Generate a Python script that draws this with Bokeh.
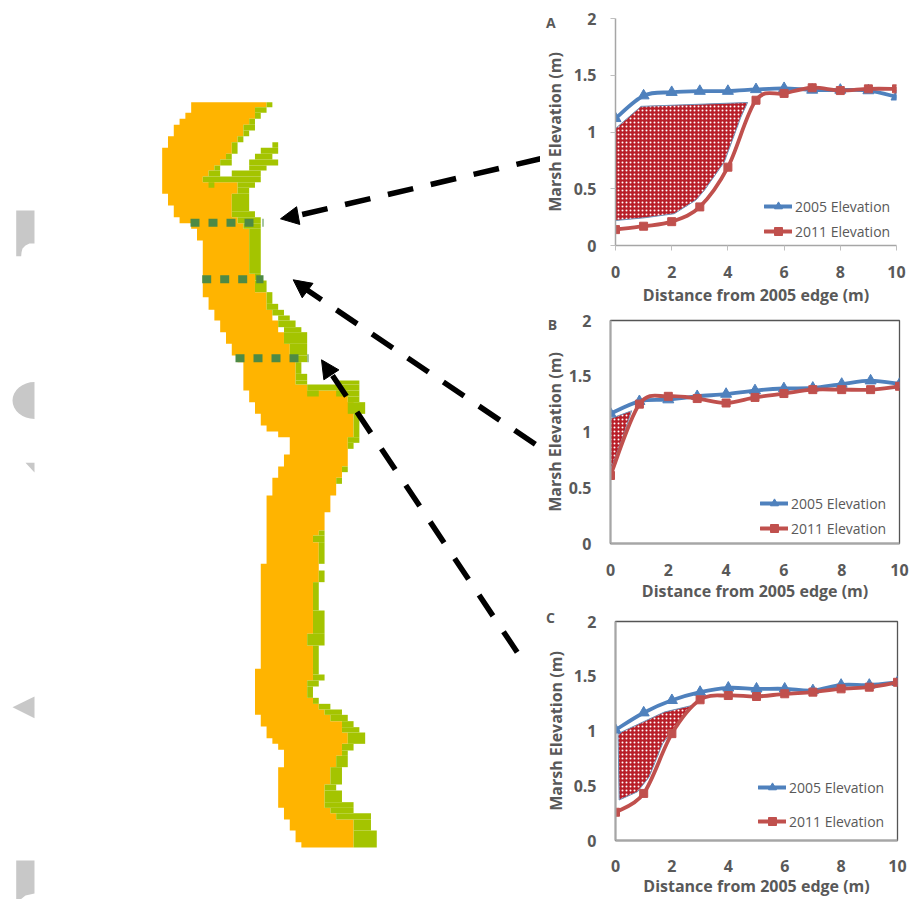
from bokeh.plotting import figure
from bokeh.layouts import row, column
from bokeh.models import Range1d, Legend, LegendItem, Arrow, NormalHead, FixedTicker, LinearAxis
from bokeh.core.properties import value
from bokeh.embed import file_html
from bokeh.resources import INLINE

# ---------- chart data ----------
distance = [0, 1, 2, 3, 4, 5, 6, 7, 8, 9, 10]
a_2005 = [1.12, 1.32, 1.35, 1.36, 1.36, 1.375, 1.385, 1.37, 1.37, 1.365, 1.31]
a_2011 = [0.14, 0.17, 0.21, 0.34, 0.69, 1.28, 1.34, 1.39, 1.365, 1.38, 1.38]
b_2005 = [1.165, 1.275, 1.29, 1.32, 1.34, 1.372, 1.39, 1.395, 1.43, 1.46, 1.43]
b_2011 = [0.61, 1.25, 1.32, 1.30, 1.26, 1.31, 1.345, 1.38, 1.38, 1.38, 1.41]
c_2005 = [1.01, 1.167, 1.28, 1.355, 1.394, 1.385, 1.385, 1.37, 1.42, 1.42, 1.445]
c_2011 = [0.258, 0.43, 0.976, 1.285, 1.324, 1.315, 1.34, 1.355, 1.385, 1.40, 1.445]
# eroded areas
a_loss_x = [0, 0.91, 4.7, 4.46, 3.87, 3.16, 2.86, 2.09, 1.03, 0]
a_loss_y = [1.03, 1.226, 1.26, 1.13, 0.735, 0.485, 0.40, 0.28, 0.244, 0.22]
b_loss_x = [0, 0.73, 0.46, 0]
b_loss_y = [1.12, 1.19, 0.98, 0.655]
c_loss_x = [0.09, 1.73, 2.71, 2.2, 1.67, 1.19, 0.78, 0.13]
c_loss_y = [0.976, 1.173, 1.233, 1.067, 0.885, 0.58, 0.445, 0.37]
x_ticks = [0, 2, 4, 6, 8, 10]
y_ticks = [0, 0.5, 1, 1.5, 2]
y_tick_labels = {0: "0", 0.5: "0.5", 1: "1", 1.5: "1.5", 2: "2"}
x_title = "Distance from 2005 edge (m)"
y_title = "Marsh Elevation (m)"
series_names = ["2005 Elevation", "2011 Elevation"]

# ---------- map data: rows (y0, y1, edge...) ----------
crop_top = (150, 90)
top_left = [(35,67,122),(67,85,105),(85,103,88),(103,137,70),(137,172,52),(172,310,35),(310,345,52),
            (345,380,70),(380,398,88),(398,415,122),(415,450,140),(450,620,158),(620,658,175),(658,690,192),
            (690,725,210),(725,760,228),(760,795,245),(795,815,262),(815,870,280)]
top_right = [(35,50,350),(50,85,315),(85,103,297),(103,137,280),(137,155,262),(155,190,245),(190,207,228),
             (207,225,210),(225,240,192),(240,258,175),(258,275,158),(275,310,262),(310,380,245),(380,398,262),
             (398,415,280),(415,550,297),(550,605,315),(605,658,350),(658,690,367),(690,725,385),(725,760,400),
             (760,795,418),(795,870,437)]
top_green = [(35,50,350,367),(50,67,315,350),(67,85,315,333),(85,103,297,315),(103,120,280,315),(120,137,280,297),
             (137,155,262,280),(155,190,245,262),(190,207,228,245),(207,225,210,245),(225,240,192,210),(240,258,175,210),
             (258,275,158,333),(240,258,245,333),(225,240,297,350),(207,225,297,385),(190,207,315,367),(172,190,333,385),
             (155,172,367,385),(275,292,175,192),(275,292,262,315),(292,310,262,297),(310,362,245,297),(362,380,245,315),
             (380,398,262,333),(398,415,280,333),(415,550,297,330),(550,570,315,333),(570,605,315,350),(605,640,350,367),
             (640,658,350,385),(658,675,367,400),(675,690,385,418),(690,710,385,435),(710,725,400,452),(725,760,400,470),
             (760,795,418,470),(795,815,437,470),(815,850,437,452),(850,870,437,470)]
crop_mid = (230, 380)
mid_left = [(0,30,40),(30,65,58),(65,100,75),(100,135,92),(135,153,110),(153,170,145),(170,222,180),(222,258,162),
            (258,292,145),(292,345,127),(345,550,110),(550,690,92)]
mid_right = [(0,12,200),(12,30,230),(30,65,355),(65,170,370),(170,205,355),(205,258,352),(258,292,335),(292,345,318),
             (345,395,300),(395,450,283),(450,465,265),(465,485,248),(485,605,265),(605,690,248)]
mid_green = [(0,12,198,230),(0,12,320,385),(12,30,230,385),(30,48,230,265),(30,48,320,385),(48,65,355,385),(65,100,355,405),
             (100,170,370,388),(170,187,355,388),(187,205,355,370),(258,275,335,352),(292,310,318,335),(450,465,265,283),
             (465,485,248,283),(485,550,265,283),(570,605,265,283),(605,690,248,265)]
crop_low = (230, 610)
low_left = [(0,175,92),(175,313,75),(313,348,92),(348,383,110),(383,400,127),(400,418,145),(418,470,162),(470,592,145),
            (592,627,162),(627,660,180),(660,695,197),(695,711,215)]
low_green = [(0,70,248,283),(70,105,230,283),(105,192,248,265),(192,210,248,283),(210,228,230,265),(228,262,230,248),
             (262,280,248,265),(280,297,265,300),(297,313,283,335),(313,332,300,352),(332,350,335,370),(350,366,335,388),
             (366,400,352,405),(400,420,335,370),(420,436,335,352),(436,470,318,352),(470,522,300,335),(522,540,283,318),
             (540,575,283,335),(575,592,283,370),(592,608,300,370),(608,627,318,422),(627,660,370,422),(660,711,370,440)]

BLUE, RED, GREY_TXT = "#4F81BD", "#C0504D", "#595959"
ORANGE, GREEN, DARK_GREEN, BG_GREY = "#FFB400", "#A4C400", "#4E8A45", "#C8C8C8"
FONT = "Open Sans"
CELL, CELL_X0 = 5.8, 161.67


def snap(x):
    return CELL_X0 + round((x - CELL_X0) / CELL) * CELL


def to_px(rows, crop):
    ox, oy = crop
    return [(oy + r[0] / 3, oy + r[1] / 3) + tuple(snap(ox + v / 3) for v in r[2:]) for r in rows]


# ---------- map figure (its axes run in picture units) ----------
m = figure(width=540, height=899, x_range=Range1d(0, 540), y_range=Range1d(899, 0), frame_align=False,
           output_backend="svg", toolbar_location=None, min_border=0)
m.axis.visible = False
m.grid.visible = False
m.outline_line_color = None

# faded background letters
m.patch([15.7, 34, 34, 29, 25, 22, 21, 20.7, 15.7], [210, 210, 243, 243, 245, 248, 252, 255.7, 255.7],
        fill_color=BG_GREY, line_color=None)
m.ellipse(x=[34], y=[400], width=44, height=37, fill_color=BG_GREY, line_color=None)
m.quad(left=[34], right=[60], top=[380], bottom=[420], fill_color="white", line_color=None)
m.patch([25, 34, 34], [462.3, 462.3, 472], fill_color=BG_GREY, line_color=None)
m.patch([12, 34, 34], [706.7, 696, 717.7], fill_color=BG_GREY, line_color=None)
m.patch([15.7, 34, 34, 25, 20, 15.7], [860, 860, 893, 895, 899, 899], fill_color=BG_GREY, line_color=None)

left_rows = to_px(top_left, crop_top) + to_px(mid_left, crop_mid) + to_px(low_left, crop_low)
right_rows = to_px(top_right, crop_top) + to_px(mid_right, crop_mid) + \
    [(r[0], r[1], r[2]) for r in to_px(low_green, crop_low)]
green_rows = to_px(top_green, crop_top) + to_px(mid_green, crop_mid) + to_px(low_green, crop_low)

px, py = [], []
for y0, y1, x in right_rows:
    px += [x, x]
    py += [y0, y1]
for y0, y1, x in reversed(left_rows):
    px += [x, x]
    py += [y1, y0]
m.patch(px, py, fill_color=ORANGE, line_color=None)
m.quad(left=[r[2] for r in green_rows], right=[r[3] for r in green_rows],
       top=[r[0] for r in green_rows], bottom=[r[1] for r in green_rows],
       fill_color=GREEN, line_color=None)

# transect lines
for x0, x1, y in [(190, 263, 222.3), (201.7, 263, 278.7), (235, 308, 357.7)]:
    m.line([x0, x1], [y, y], line_color=DARK_GREEN, line_width=8, line_dash="9 9")

# dashed arrows: first dash start, far end, head base, tip
for sx, sy, ex, ey, bx, by, tx, ty, dash in [
    (301.7, 214, 540, 158.3, 298.3, 215, 280, 218.3, "26 18"),
    (300.3, 285.3, 538.3, 446, 303, 287, 292.7, 279.3, "25 18"),
    (332, 375, 516.7, 651.7, 330, 373, 321, 359.3, "25 19"),
]:
    m.line([sx, ex], [sy, ey], line_color="black", line_width=5.5, line_dash=dash)
    m.add_layout(Arrow(x_start=bx, y_start=by, x_end=tx, y_end=ty, line_alpha=0, line_width=1,
                       end=NormalHead(size=18, fill_color="black", line_color="black", line_width=1)))


# ---------- line charts ----------
def smooth(xs, ys):
    """Control points of the curve through the data points (spreadsheet smoothing)."""
    n = len(xs)
    out = {k: [] for k in ("x0", "y0", "x1", "y1", "cx0", "cy0", "cx1", "cy1")}
    for i in range(n - 1):
        a, d = max(i - 1, 0), min(i + 2, n - 1)
        out["x0"].append(xs[i]); out["y0"].append(ys[i])
        out["x1"].append(xs[i + 1]); out["y1"].append(ys[i + 1])
        out["cx0"].append(xs[i] + (xs[i + 1] - xs[a]) / 6); out["cy0"].append(ys[i] + (ys[i + 1] - ys[a]) / 6)
        out["cx1"].append(xs[i + 1] - (xs[d] - xs[i]) / 6); out["cy1"].append(ys[i + 1] - (ys[d] - ys[i]) / 6)
    return out


def title_axis(text, bounds, standoff):
    return LinearAxis(axis_label=text, bounds=bounds, ticker=FixedTicker(ticks=[]),
                      axis_line_color=None, major_tick_line_color=None, minor_tick_line_color=None,
                      major_tick_in=0, major_tick_out=0, minor_tick_in=0, minor_tick_out=0,
                      major_label_standoff=0, axis_label_standoff=standoff,
                      axis_label_text_font=FONT, axis_label_text_font_style="bold",
                      axis_label_text_font_size="16px", axis_label_text_color=GREY_TXT)


def chart(letter, s05, s11, lx, ly, fig_top, fig_bottom, fx0, fx1, fy2, fy0, boxed, leg_loc, leg_gap,
          ylab, xlab, letter_pos, y_standoff, x_standoff, x_tick_standoff):
    """fig_* and f* are the figure and plot-area edges on the page; labels are page positions."""
    to_x = lambda v: (v - fx0) / (fx1 - fx0) * 10
    to_y = lambda v: (fy0 - v) / (fy0 - fy2) * 2
    p = figure(width=369, height=fig_bottom - fig_top, x_range=Range1d(0, 10), y_range=Range1d(0, 2),
               frame_align=False, output_backend="svg", toolbar_location=None, min_border_left=fx0 - 540,
               min_border_right=909 - fx1, min_border_top=fy2 - fig_top, min_border_bottom=fig_bottom - fy0)
    p.grid.visible = False
    p.xaxis.ticker = FixedTicker(ticks=x_ticks)
    p.yaxis.ticker = FixedTicker(ticks=y_ticks)
    p.yaxis.major_label_overrides = y_tick_labels
    for ax, stand in ((p.xaxis[0], x_tick_standoff), (p.yaxis[0], 14)):
        ax.axis_line_color = "#A6A6A6"
        ax.axis_line_width = 2 if boxed else 1.5
        ax.major_tick_line_color = None if boxed else "#BFBFBF"
        ax.major_tick_in = 0
        ax.major_tick_out = 5
        ax.minor_tick_line_color = None
        ax.major_label_text_font = FONT
        ax.major_label_text_font_style = "bold"
        ax.major_label_text_font_size = "16px"
        ax.major_label_text_color = GREY_TXT
        ax.major_label_standoff = stand
    if boxed:
        p.outline_line_color = "#555555"
        p.outline_line_width = 1.3
    else:
        p.outline_line_color = None

    # axis titles are not centred on the plot area: their own axes are bounded around the title centre
    yc, xc = to_y(ylab), to_x(xlab)
    p.add_layout(title_axis(y_title, (yc - 0.8, yc + 0.8), y_standoff), "left")
    p.add_layout(title_axis(x_title, (xc - 4, xc + 4), x_standoff), "below")

    p.patch(lx, ly, fill_color="#B81E28", line_color="#6F93B8", line_width=1,
            hatch_pattern="dot", hatch_color="white", hatch_scale=4, hatch_weight=1.6)

    items = []
    for name, vals, col, mark, size in [(series_names[0], s05, BLUE, "triangle", 11),
                                        (series_names[1], s11, RED, "square", 8)]:
        r1 = p.bezier(source=smooth(distance, vals), x0="x0", y0="y0", x1="x1", y1="y1",
                      cx0="cx0", cy0="cy0", cx1="cx1", cy1="cy1",
                      line_color=col, line_width=3.8, line_cap="round")
        r2 = p.scatter(distance, vals, marker=mark, size=size, fill_color=col, line_color=col)
        items.append(LegendItem(label=name, renderers=[r1, r2]))
    leg = Legend(items=items, location=leg_loc, background_fill_alpha=0, border_line_color=None,
                 padding=0, margin=0, glyph_width=28, glyph_height=20, label_height=20,
                 spacing=leg_gap, label_standoff=3, label_text_font=FONT,
                 label_text_font_size="14px", label_text_color=GREY_TXT)
    p.add_layout(leg, "center")

    p.text(x=[to_x(letter_pos[0])], y=[to_y(letter_pos[1])], text=[letter], level="overlay",
           text_font=value(FONT), text_font_style="bold", text_color=GREY_TXT, text_align="center",
           text_baseline="middle", text_font_size="14px")
    return p


A = chart("A", a_2005, a_2011, a_loss_x, a_loss_y, 0, 309, 614, 896, 18, 245, False, (149, 4), 5,
          150, 758, (549, 22), 5, 3, 15)
B = chart("B", b_2005, b_2011, b_loss_x, b_loss_y, 309, 604, 610, 899, 320, 543, True, (150, 5), 5,
          445, 760, (552, 324), 0, 1, 15)
C = chart("C", c_2005, c_2011, c_loss_x, c_loss_y, 604, 899, 615, 897, 621, 841, True, (143, 9), 14,
          732, 751, (550, 617), 4, 0, 14)

root = row(m, column(A, B, C, spacing=0), spacing=0)
open("out.html", "w").write(file_html(root, INLINE))
